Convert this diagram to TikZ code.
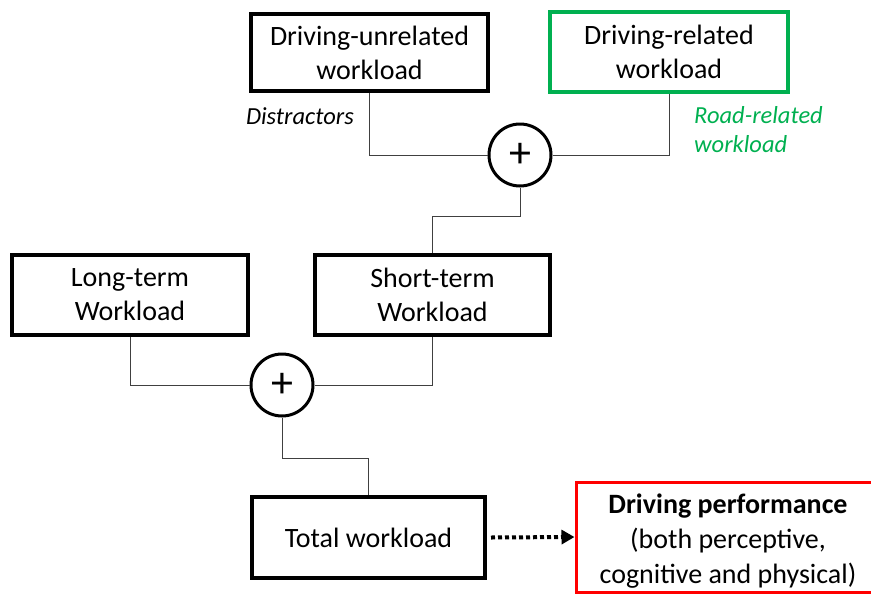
\documentclass[tikz,border=0pt]{standalone}
\usepackage{fontspec}
\setmainfont{Carlito}
\usetikzlibrary{arrows.meta,calc}
\definecolor{relgreen}{HTML}{00B050}
\definecolor{perfred}{HTML}{FF0000}
\definecolor{wire}{HTML}{404040}
\begin{document}
\begin{tikzpicture}[x=1pt,y=-1pt,
  box/.style={draw=black,line width=4pt,fill=white,align=center,inner sep=0pt,
    font=\fontsize{28}{34}\selectfont},
  sumnode/.style={draw=black,line width=3pt,circle,minimum size=62pt,inner sep=0pt,
    font=\fontsize{44}{44}\selectfont},
  conn/.style={draw=wire,line width=1pt},
  note/.style={font=\fontsize{24.5}{29}\selectfont\itshape,inner sep=0pt}]
\useasboundingbox (0,0) rectangle (871,595);

% source boxes
\node[box,minimum width=237pt,minimum height=77pt] (unrel) at (369.5,52.5) {Driving-unrelated\\workload};
\node[box,draw=relgreen,line width=3.5pt,minimum width=238pt,minimum height=80pt] (rel) at (669,52) {Driving-related\\workload};
\node[box,minimum width=236pt,minimum height=80pt] (long) at (130,295) {Long-term\\Workload};
\node[box,minimum width=235pt,minimum height=80pt] (short) at (432.5,295) {Short-term\\Workload};
\node[box,minimum width=233pt,minimum height=81pt] (total) at (368.5,537.5) {Total workload};
% outcome box runs past the right edge of the page
\node[box,draw=perfred,line width=3pt,minimum width=304pt,minimum height=110pt,
  font=\fontsize{28}{35}\selectfont] (perf) at (728,537)
  {\rule{0pt}{27pt}\textbf{Driving performance}\\(both perceptive,\\cognitive and physical)};

% summing junctions
\node[sumnode] (sum1) at (520,155) {+};
\node[sumnode] (sum2) at (282,385) {+};

% side labels
\node[note,anchor=east] (distr) at (354,116) {Distractors};
\node[note,anchor=north west,align=left,text=relgreen] (road) at (694,106) {Road-related\\workload};

% connectors
\draw[conn] (unrel.south) |- (sum1.west);
\draw[conn] (rel.south) |- (sum1.east);
\draw[conn] (sum1.south) -- ++(0,29) -| (short.north);
\draw[conn] (long.south) |- (sum2.west);
\draw[conn] (short.south) |- (sum2.east);
\draw[conn] (sum2.south) -- ++(0,41) -| (total.north);

% influence arrow
\draw[line width=4pt,dash pattern=on 4pt off 3pt,
  -{Triangle[length=13pt,width=14pt]}] (total.east) ++(4,0) -- (perf.west);
\end{tikzpicture}
\end{document}
